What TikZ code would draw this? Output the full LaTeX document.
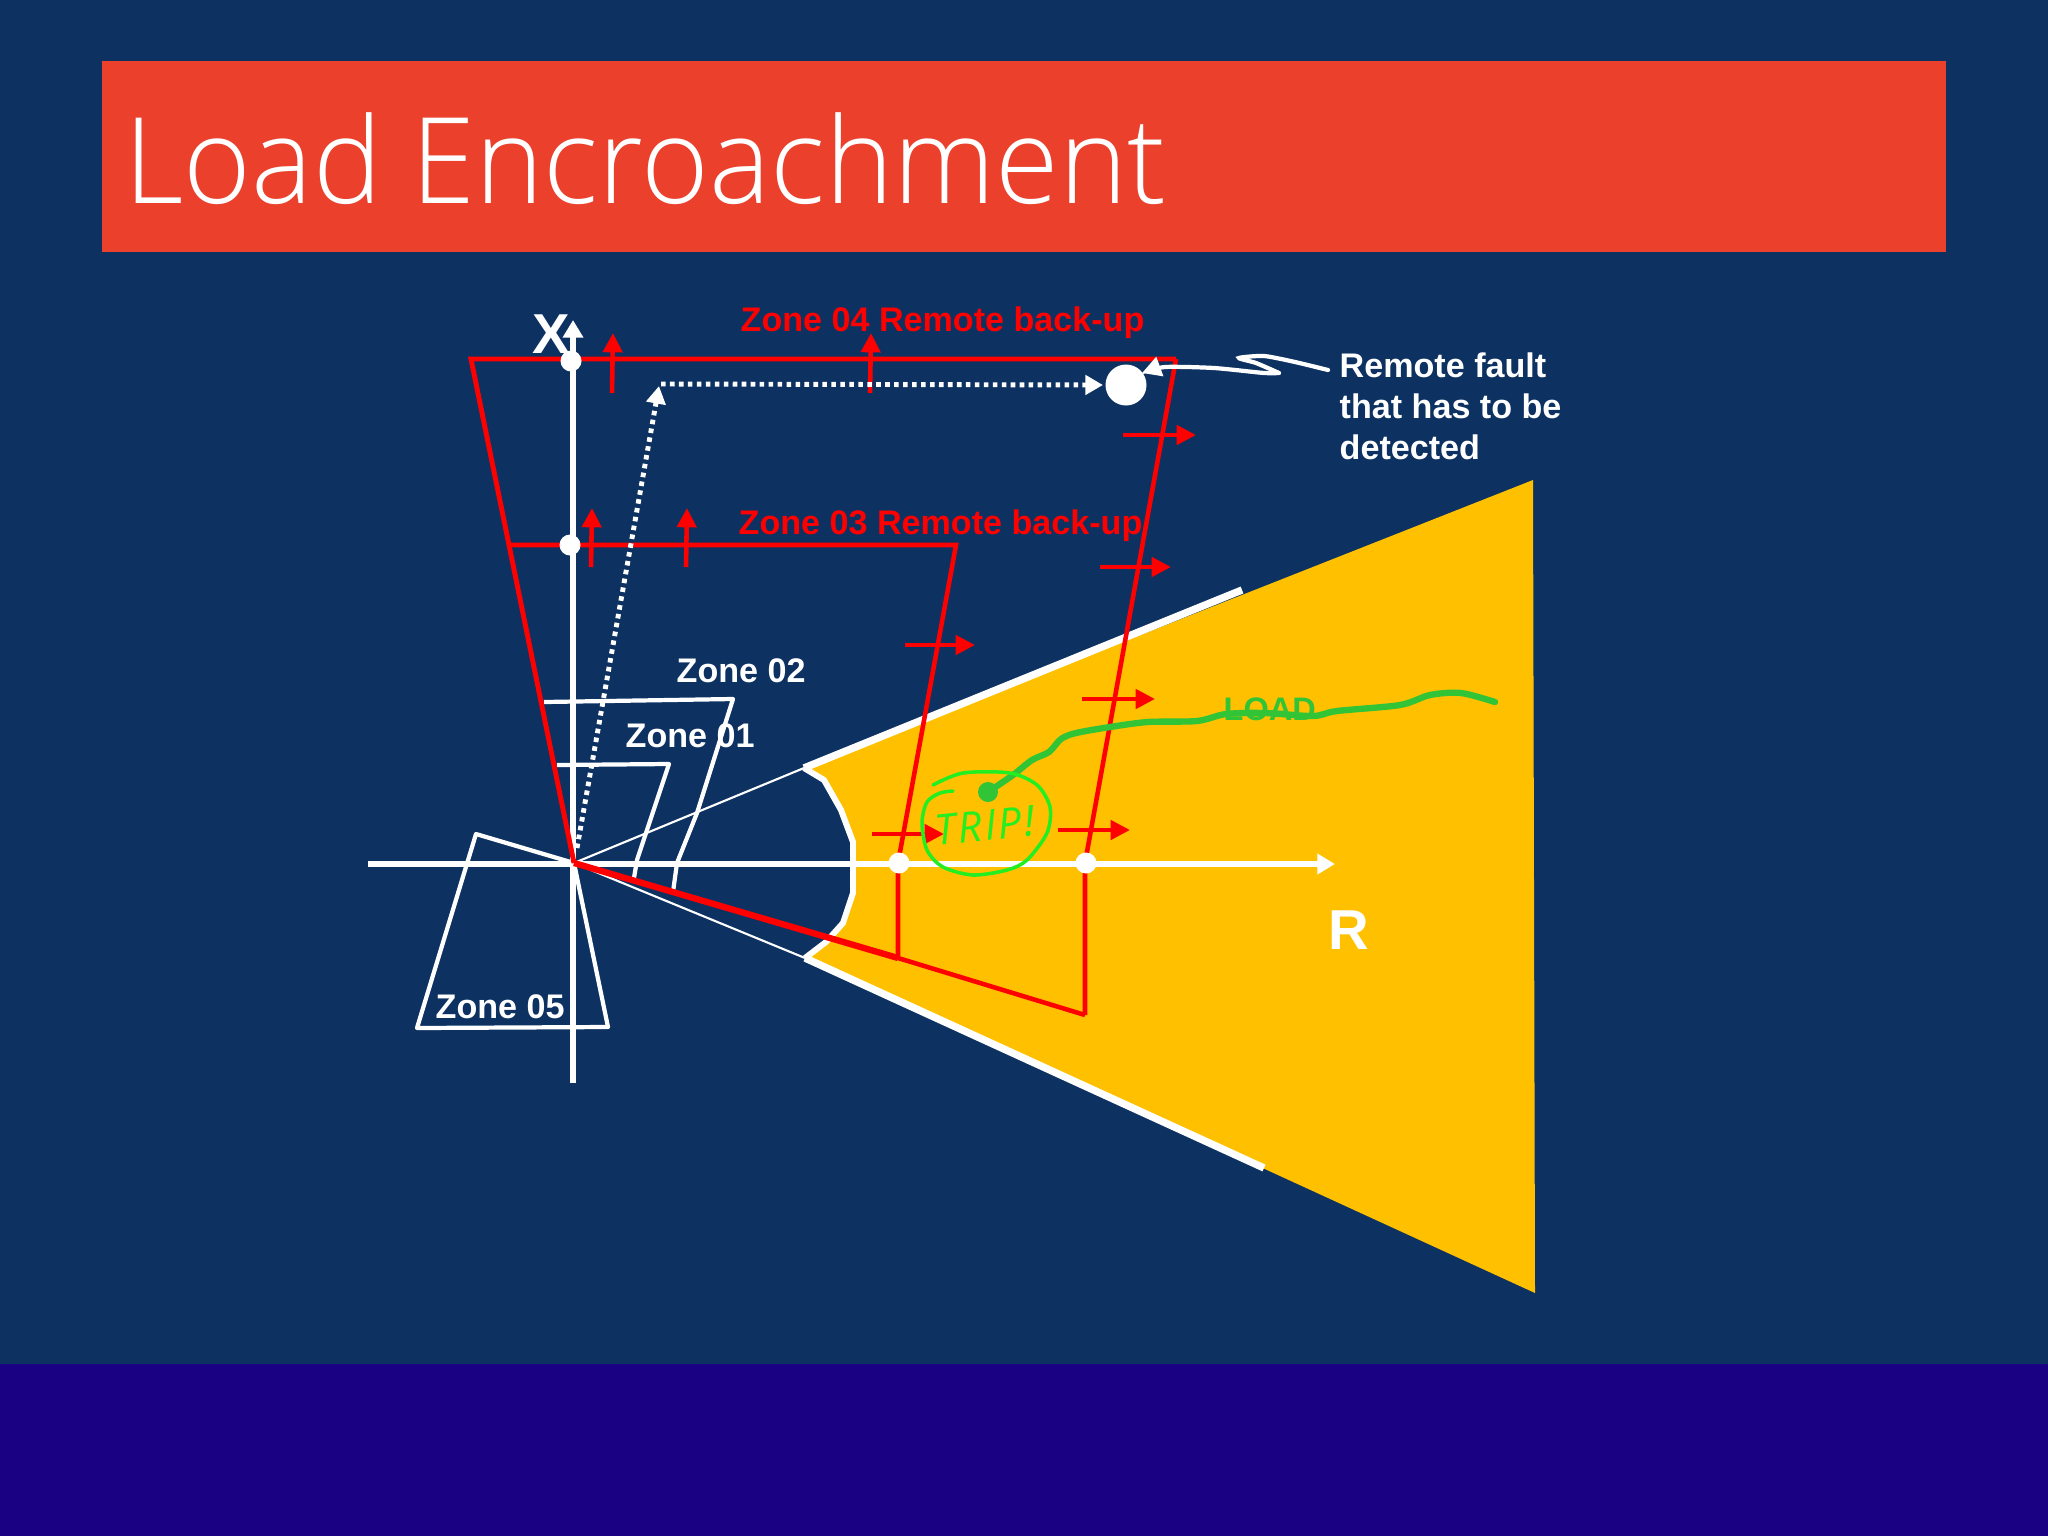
\documentclass[tikz,border=0pt]{standalone}
\usepackage{fontspec}
\usepackage{xcolor}
\setmainfont{Liberation Sans}
\newfontfamily\titlefont{Open Sans Light}
\newfontfamily\tripfont[LetterSpace=5]{Open Sans}
\usetikzlibrary{arrows.meta,calc}
\definecolor{slidebg}{RGB}{13,50,98}
\definecolor{bandblue}{RGB}{26,0,130}
\definecolor{titlered}{RGB}{234,64,44}
\definecolor{sectoryellow}{RGB}{255,192,0}
\definecolor{loadgreen}{RGB}{50,196,55}
\definecolor{tripgreen}{RGB}{34,238,34}

\begin{document}
\begin{tikzpicture}[
  x=0.01cm, y=-0.01cm,
  whiteline/.style={white, line width=1.2pt, line join=round},
  redline/.style={red, line width=1.3pt, line join=miter},
  axis/.style={white, line width=1.6pt, -{Triangle[length=5pt,width=5.6pt]}},
  reach/.style={red, line width=1.3pt, -{Triangle[length=5.5pt,width=5.4pt]}},
  dotline/.style={white, line width=1.4pt, dash pattern=on 1.3pt off 1.25pt, -{Triangle[length=5pt,width=5.4pt]}},
  lbl/.style={inner sep=0pt, anchor=base west, font=\fontsize{9.7pt}{11.6pt}\selectfont\bfseries},
  axislbl/.style={inner sep=0pt, anchor=base west, text=white, font=\fontsize{16pt}{16pt}\selectfont\bfseries},
  dot/.style={circle, fill=white, inner sep=0pt, minimum size=21*0.01cm},
]
% Background
\fill[slidebg] (0,0) rectangle (2048,1536);
\fill[bandblue] (0,1364) rectangle (2048,1536);
\fill[titlered] (102,61) rectangle (1946,252);
\node[inner sep=0pt, anchor=base west, text=white, xscale=0.967, font=\fontsize{34pt}{36pt}\titlefont] (title) at (124,203) {Load Encroachment};

% Points
\coordinate (orig) at (574,863);
\coordinate (secTop) at (804,768);
\coordinate (secBot) at (805,958);
\coordinate (secTopEnd) at (1242,590);
\coordinate (secBotEnd) at (1264,1168);
\coordinate (zfourTL) at (471,359);
\coordinate (zfourTR) at (1176,359);
\coordinate (zfourR) at (1085,863);
\coordinate (zfourB) at (1085,1015);
\coordinate (zthreeTL) at (511,545);
\coordinate (zthreeTR) at (956,545);
\coordinate (zthreeR) at (898,863);
\coordinate (zthreeB) at (898,958);
\coordinate (corner) at (661,384);

% Load sector
\fill[sectoryellow] (secTop) -- (1533,480) -- (1535,1293) -- (secBot)
  -- (826,942) -- (843,923) -- (853,893) -- (853,842) -- (841,810) -- (824,780) -- cycle;
\draw[white, line width=0.6pt] (orig) -- (secTop);
\draw[white, line width=0.6pt] (orig) -- (secBot);
\draw[white, line width=2.1pt] (secTopEnd) -- (secTop);
\draw[white, line width=2.1pt] (secBotEnd) -- (secBot);
\draw[white, line width=1.7pt, line join=round] (secTop) -- (824,780) -- (841,810) -- (853,842) -- (853,893) -- (843,923) -- (826,942) -- (secBot);

% Axes
\draw[axis] (368,864) -- (1335,864);
\draw[axis] (573,1083) -- (573,320);

% Zones 01, 02, 05
\draw[whiteline] (544,702) -- (733,699) -- (697,813) -- (677,863) -- (673,892);
\draw[whiteline] (557,765) -- (669,764) -- (637,860) -- (634,878);
\draw[whiteline] (orig) -- (476,834) -- (417,1028) -- (608,1027) -- cycle;

% Zones 03, 04
\draw[redline] (zfourTR) -- (zfourR) (zfourR) -- (zfourB);
\draw[redline] (zthreeTL) -- (zthreeTR) -- (zthreeR) (zthreeR) -- (zthreeB);
\draw[redline, line width=1.4pt] (orig) -- (zfourTL) -- (zfourTR);
\draw[redline, line width=1.8pt] (orig) -- (zthreeB);
\draw[redline] (zthreeB) -- (zfourB);

% Reach arrows
\foreach \xa/\xb in {612/613, 870/871}
  \draw[reach] (\xa,393) -- (\xb,333);
\foreach \xa/\xb in {591/592, 686/687}
  \draw[reach] (\xa,567) -- (\xb,508);
\foreach \xa/\xb/\yy in {1123/1196/435, 1100/1171/567, 905/975/645, 1082/1155/699, 872/944/834, 1058/1130/830}
  \draw[reach] (\xa,\yy) -- (\xb,\yy);

% Fault path
\node[dot, minimum size=41*0.01cm] (fault) at (1126,385) {};
\draw[dotline] (orig) ++(3,-15) -- (659,386);
\draw[dotline] (corner) -- (1103,385);

% Dots on the axes
\node[dot] (xfour) at (571,361) {};
\node[dot] (xthree) at (570,545) {};
\node[dot] (rthree) at (899,863) {};
\node[dot] (rfour) at (1086,863) {};

% Callout
\draw[white, line width=1.2pt, line cap=round] plot[smooth, tension=0.4] coordinates {(1328,370) (1295,362) (1264,356) (1239,358) (1256,363) (1279,373)};
\draw[white, line width=1.2pt, -{Triangle[length=5.4pt,width=5.6pt]}] plot[smooth, tension=0.4] coordinates {(1279,373) (1264,373) (1214,368) (1165,367) (1142,373)};

% Load trajectory
\node[circle, fill=loadgreen, inner sep=0pt, minimum size=20*0.01cm] (loadpt) at (988,792) {};
\draw[loadgreen, line width=1.8pt, line join=round, line cap=round] plot[smooth, tension=0.5] coordinates {(988,792) (1013,775) (1032,760) (1049,752) (1061,739) (1076,733) (1110,727) (1148,722) (1197,721) (1226,714) (1265,713) (1313,716) (1337,711) (1400,705) (1430,695) (1461,693) (1495,702)};
\node[inner sep=0pt, anchor=base west, text=loadgreen, font=\fontsize{9.25pt}{11pt}\selectfont\bfseries] (loadlbl) at (1223,720) {LOAD};

% Trip circle
\draw[tripgreen, line width=1pt, line cap=round] plot[smooth, tension=0.5] coordinates {(933,785) (963,773) (1010,773) (1037,785) (1050,807) (1047,833) (1027,860) (1007,870) (973,875) (943,867) (927,850) (922,823) (927,802) (940,793) (953,791)};
\node[inner sep=0pt, anchor=center, text=tripgreen, rotate=6, font=\fontsize{12pt}{13pt}\tripfont\itshape] (trip) at (985,826) {TRIP!};

% Labels
\node[lbl, text=white] (ztwo) at (676,682) {Zone 02};
\node[lbl, text=white] (zone) at (625,747) {Zone 01};
\node[lbl, text=white] (zfive) at (435,1018) {Zone 05};
\node[lbl, text=red] (zfour) at (740,331) {Zone 04 Remote back-up};
\node[lbl, text=red] (zthree) at (738,534) {Zone 03 Remote back-up};
\node[axislbl] (xlbl) at (532,353) {X};
\node[axislbl] (rlbl) at (1328,949) {R};
\node[lbl, text=white, anchor=north west, align=left] (faultlbl) at (1339,352) {Remote fault\\that has to be\\detected};
\end{tikzpicture}
\end{document}
